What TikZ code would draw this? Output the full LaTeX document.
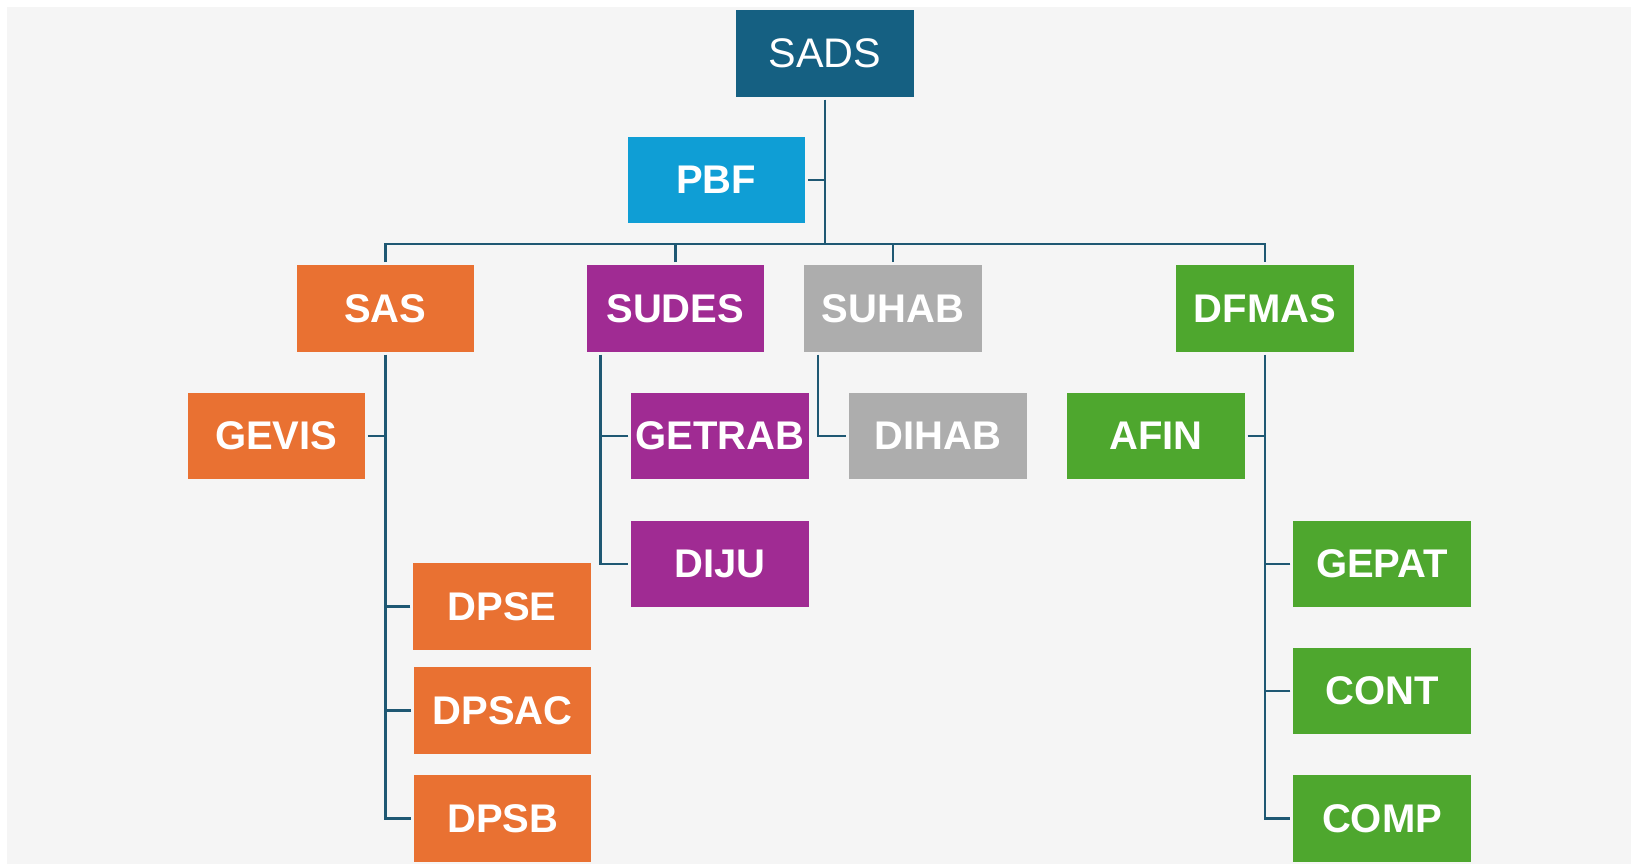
\documentclass[tikz,border=0pt]{standalone}
\usepackage{fontspec}
\setmainfont{Liberation Sans}
\definecolor{bgc}{HTML}{F5F5F5}
\definecolor{cSADS}{HTML}{156082}
\definecolor{cPBF}{HTML}{0F9ED5}
\definecolor{cOr}{HTML}{E97132}
\definecolor{cPu}{HTML}{A02B93}
\definecolor{cGr}{HTML}{ADADAD}
\definecolor{cGn}{HTML}{4EA72E}
\definecolor{cLine}{HTML}{1F5873}
\tikzset{
  orgbox/.style={rectangle, inner sep=0pt, outer sep=2.2pt, minimum width=133pt, minimum height=65pt,
    text=white, font=\fontsize{30}{33}\selectfont\bfseries},
  conn/.style={draw=cLine, line width=2pt},
}
\begin{document}
\begin{tikzpicture}[x=0.75pt, y=-0.75pt]
\useasboundingbox (0,0) rectangle (1631,867);
\fill[bgc] (7,7) rectangle (1631,864);

\node[orgbox, fill=cSADS, font=\fontsize{31}{34}\selectfont] (SADS) at (825,53.3) {SADS};
\node[orgbox, fill=cPBF] (PBF) at (716.3,180) {PBF};

\node[orgbox, fill=cOr] (SAS) at (385.3,308.3) {SAS};
\node[orgbox, fill=cPu] (SUDES) at (675.3,308.3) {SUDES};
\node[orgbox, fill=cGr] (SUHAB) at (893,308.3) {SUHAB};
\node[orgbox, fill=cGn] (DFMAS) at (1265,308.3) {DFMAS};

\node[orgbox, fill=cOr] (GEVIS) at (276.3,436) {GEVIS};
\node[orgbox, fill=cPu] (GETRAB) at (720,436) {GETRAB};
\node[orgbox, fill=cGr] (DIHAB) at (938,436) {DIHAB};
\node[orgbox, fill=cGn] (AFIN) at (1156,436) {AFIN};

\node[orgbox, fill=cPu] (DIJU) at (720,564) {DIJU};
\node[orgbox, fill=cGn] (GEPAT) at (1382,564) {GEPAT};

\node[orgbox, fill=cOr] (DPSE) at (502,606.7) {DPSE};
\node[orgbox, fill=cOr] (DPSAC) at (502.7,710.7) {DPSAC};
\node[orgbox, fill=cGn] (CONT) at (1382,691) {CONT};
\node[orgbox, fill=cOr] (DPSB) at (502.7,818.7) {DPSB};
\node[orgbox, fill=cGn] (COMP) at (1382,818.7) {COMP};

\coordinate (busy) at (0,244);

% top level
\draw[conn] (SADS.south) -- (SADS.south |- busy);
\draw[conn] (PBF.east) -- (PBF.east -| SADS.south);
\draw[conn] (SAS.north) -- (SAS.north |- busy) -- (DFMAS.north |- busy) -- (DFMAS.north);
\draw[conn] (SUDES.north) -- (SUDES.north |- busy);
\draw[conn] (SUHAB.north) -- (SUHAB.north |- busy);

% SAS
\draw[conn] (SAS.south) -- (SAS.south |- DPSB.west) -- (DPSB.west);
\draw[conn] (GEVIS.east) -- (GEVIS.east -| SAS.south);
\draw[conn] (DPSE.west) -- (DPSE.west -| SAS.south);
\draw[conn] (DPSAC.west) -- (DPSAC.west -| SAS.south);

% SUDES
\coordinate (sudesV) at ([shift={(16.7,0)}]SUDES.south west);
\draw[conn] (sudesV) -- (sudesV |- DIJU.west) -- (DIJU.west);
\draw[conn] (GETRAB.west) -- (GETRAB.west -| sudesV);

% SUHAB
\coordinate (suhabV) at ([shift={(16.7,0)}]SUHAB.south west);
\draw[conn] (suhabV) -- (suhabV |- DIHAB.west) -- (DIHAB.west);

% DFMAS
\draw[conn] (DFMAS.south) -- (DFMAS.south |- COMP.west) -- (COMP.west);
\draw[conn] (AFIN.east) -- (AFIN.east -| DFMAS.south);
\draw[conn] (GEPAT.west) -- (GEPAT.west -| DFMAS.south);
\draw[conn] (CONT.west) -- (CONT.west -| DFMAS.south);
\end{tikzpicture}
\end{document}
